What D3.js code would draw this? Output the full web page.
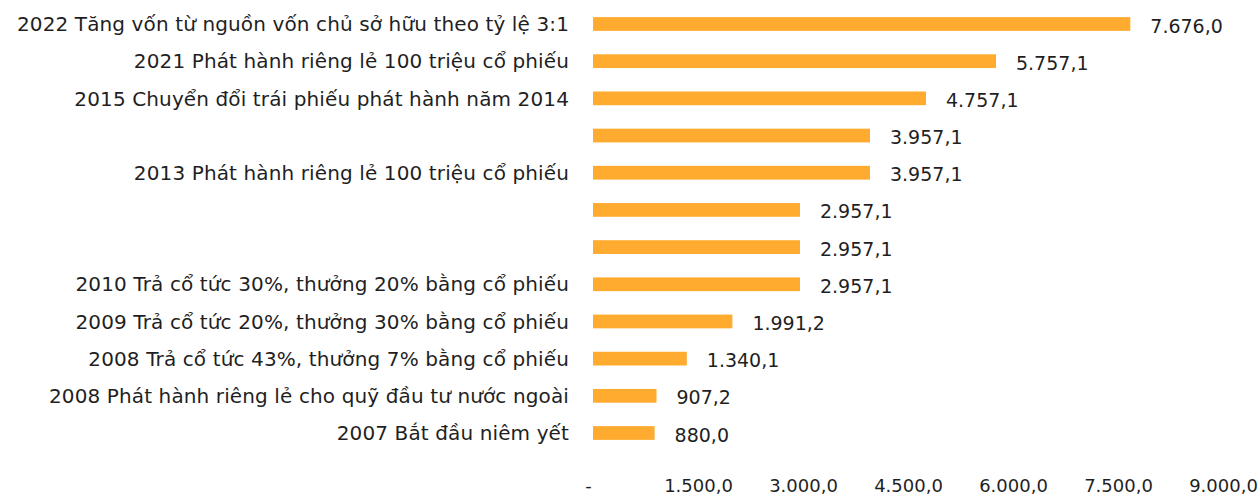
<!DOCTYPE html>
<html>
<head>
<meta charset="utf-8">
<script src="https://cdn.jsdelivr.net/npm/d3@7"></script>
<style>
  html, body { margin: 0; padding: 0; background: #ffffff; }
  svg { display: block; }
  text { font-family: "DejaVu Sans", sans-serif; fill: #1f1f1f; }
</style>
</head>
<body>
<svg id="chart" width="1259" height="499"></svg>
<script>
const categories = [
  "2022 Tăng vốn từ nguồn vốn chủ sở hữu theo tỷ lệ 3:1",
  "2021 Phát hành riêng lẻ 100 triệu cổ phiếu",
  "2015 Chuyển đổi trái phiếu phát hành năm 2014",
  "",
  "2013 Phát hành riêng lẻ 100 triệu cổ phiếu",
  "",
  "",
  "2010 Trả cổ tức 30%, thưởng 20% bằng cổ phiếu",
  "2009 Trả cổ tức 20%, thưởng 30% bằng cổ phiếu",
  "2008 Trả cổ tức 43%, thưởng 7% bằng cổ phiếu",
  "2008 Phát hành riêng lẻ cho quỹ đầu tư nước ngoài",
  "2007 Bắt đầu niêm yết"
];
const values = [7676.0, 5757.1, 4757.1, 3957.1, 3957.1, 2957.1, 2957.1, 2957.1, 1991.2, 1340.1, 907.2, 880.0];
const tickValues = [0, 1500, 3000, 4500, 6000, 7500, 9000];

const locale = d3.formatLocale({decimal: ",", thousands: ".", grouping: [3], currency: ["", ""]});
const fmt = locale.format(",.1f");
const tickFmt = v => v === 0 ? "-" : fmt(v);

const svg = d3.select("#chart");

const x = d3.scaleLinear().domain([0, 9000]).range([593, 1223]);
const y = d3.scaleBand()
  .domain(d3.range(categories.length))
  .range([5.4, 451.6])
  .paddingInner(0.63)
  .paddingOuter(0.315);

// bars
svg.append("g").selectAll("rect")
  .data(values)
  .join("rect")
  .attr("x", x(0))
  .attr("y", (d, i) => y(i))
  .attr("width", d => x(d) - x(0))
  .attr("height", y.bandwidth())
  .attr("fill", "#FFAB2F");

// category labels
svg.append("g").selectAll("text")
  .data(categories)
  .join("text")
  .attr("x", x(0) - 24)
  .attr("y", (d, i) => y(i) + y.bandwidth() / 2)
  .attr("dy", "0.36em")
  .attr("text-anchor", "end")
  .attr("font-size", 20)
  .attr("letter-spacing", 0.12)
  .text(d => d);

// value labels
svg.append("g").selectAll("text")
  .data(values)
  .join("text")
  .attr("x", d => x(d) + 20)
  .attr("y", (d, i) => y(i) + y.bandwidth() / 2)
  .attr("dy", "0.45em")
  .attr("font-size", 19)
  .text(d => fmt(d));

// x axis
const axis = d3.axisBottom(x).tickValues(tickValues).tickSize(0).tickPadding(0).tickFormat(tickFmt);
const gx = svg.append("g").attr("transform", "translate(0,479)").call(axis);
gx.select(".domain").remove();
gx.selectAll("text")
  .attr("font-size", 18)
  .attr("font-family", "DejaVu Sans, sans-serif")
  .attr("fill", "#1f1f1f")
  .attr("dx", d => d === 0 ? -5 : 0);
</script>
</body>
</html>
